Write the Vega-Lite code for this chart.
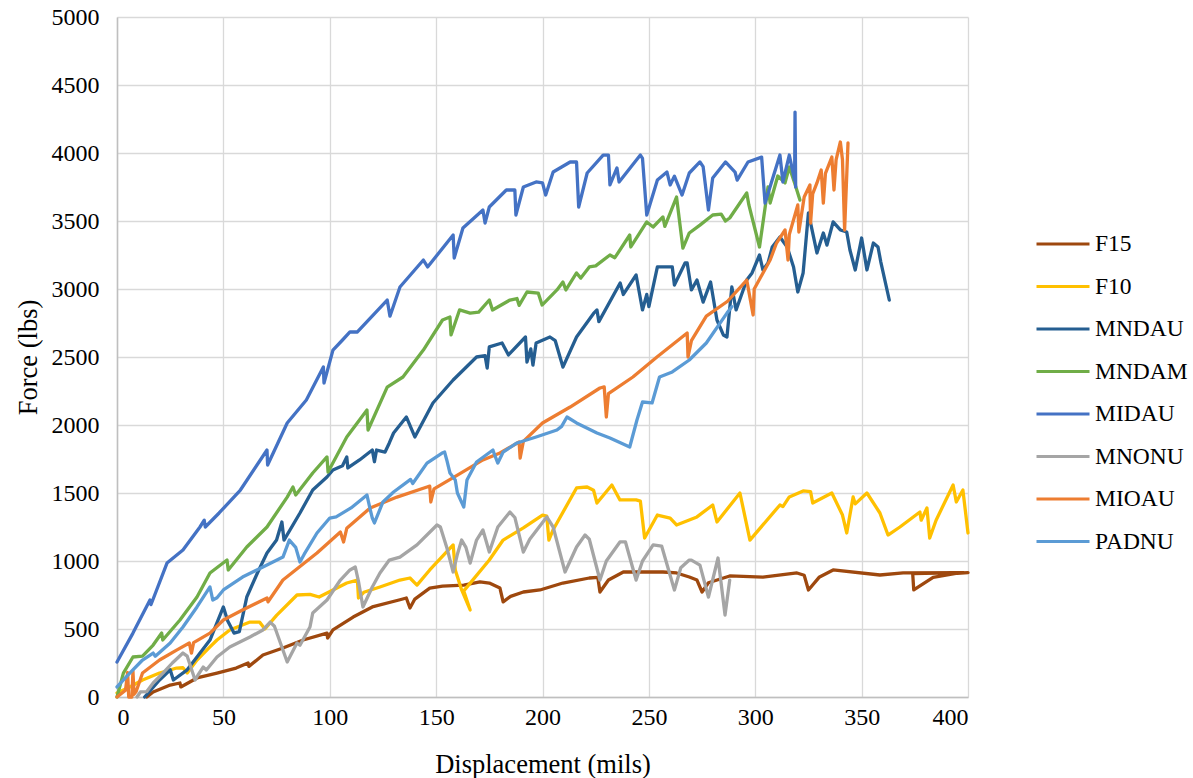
{
  "$schema": "https://vega.github.io/schema/vega-lite/v6.json",
  "width": 851,
  "height": 680,
  "autosize": "none",
  "padding": {"left": 117, "top": 17, "right": 225, "bottom": 81},
  "background": "white",
  "config": {
    "view": {"stroke": null},
    "font": "'Liberation Serif', 'Times New Roman', serif",
    "axis": {
      "gridColor": "#D9D9D9",
      "gridWidth": 1.3,
      "domainColor": "#BFBFBF",
      "domainWidth": 1.5,
      "ticks": false,
      "labelFont": "'Liberation Serif', 'Times New Roman', serif",
      "labelFontSize": 24,
      "labelColor": "#000000",
      "titleFont": "'Liberation Serif', 'Times New Roman', serif",
      "titleFontSize": 26.5,
      "titleFontWeight": "normal",
      "titleColor": "#000000"
    },
    "legend": {
      "labelFont": "'Liberation Serif', 'Times New Roman', serif",
      "labelFontSize": 23.5,
      "labelColor": "#000000"
    }
  },
  "datasets": {
    "curves": [
      {"s":"F15","x":14,"y":0},{"s":"F15","x":17,"y":37},{"s":"F15","x":25,"y":88},{"s":"F15","x":29.6,"y":103},{"s":"F15","x":30,"y":74},{"s":"F15","x":37.6,"y":140},{"s":"F15","x":47,"y":176},{"s":"F15","x":56,"y":213},{"s":"F15","x":61.6,"y":250},{"s":"F15","x":62,"y":225},{"s":"F15","x":68.6,"y":309},{"s":"F15","x":78,"y":360},{"s":"F15","x":87.5,"y":419},{"s":"F15","x":98.7,"y":470},{"s":"F15","x":99,"y":434},{"s":"F15","x":101.5,"y":493},{"s":"F15","x":111,"y":588},{"s":"F15","x":120,"y":662},{"s":"F15","x":133,"y":715},{"s":"F15","x":136,"y":728},{"s":"F15","x":137.7,"y":654},{"s":"F15","x":140,"y":720},{"s":"F15","x":147,"y":801},{"s":"F15","x":153,"y":816},{"s":"F15","x":163,"y":823},{"s":"F15","x":170.6,"y":846},{"s":"F15","x":175,"y":838},{"s":"F15","x":180,"y":801},{"s":"F15","x":181.5,"y":699},{"s":"F15","x":185,"y":740},{"s":"F15","x":191,"y":772},{"s":"F15","x":198.8,"y":787},{"s":"F15","x":209.6,"y":838},{"s":"F15","x":222,"y":875},{"s":"F15","x":226,"y":880},{"s":"F15","x":227,"y":772},{"s":"F15","x":231,"y":860},{"s":"F15","x":238,"y":919},{"s":"F15","x":244,"y":919},{"s":"F15","x":256.6,"y":919},{"s":"F15","x":263,"y":912},{"s":"F15","x":269,"y":882},{"s":"F15","x":272.6,"y":860},{"s":"F15","x":275,"y":772},{"s":"F15","x":278,"y":840},{"s":"F15","x":288,"y":890},{"s":"F15","x":303.6,"y":882},{"s":"F15","x":319.6,"y":912},{"s":"F15","x":323,"y":895},{"s":"F15","x":325,"y":787},{"s":"F15","x":330,"y":880},{"s":"F15","x":336.6,"y":934},{"s":"F15","x":358.6,"y":897},{"s":"F15","x":369.5,"y":912},{"s":"F15","x":398,"y":915},{"s":"F15","x":374,"y":908},{"s":"F15","x":374.5,"y":787},{"s":"F15","x":383.6,"y":880},{"s":"F15","x":395,"y":910},{"s":"F15","x":400,"y":915},
      {"s":"F10","x":0,"y":30},{"s":"F10","x":6,"y":74},{"s":"F10","x":12,"y":125},{"s":"F10","x":20,"y":176},{"s":"F10","x":28,"y":213},{"s":"F10","x":31,"y":215},{"s":"F10","x":33,"y":176},{"s":"F10","x":37.6,"y":272},{"s":"F10","x":43.7,"y":368},{"s":"F10","x":47,"y":419},{"s":"F10","x":53,"y":493},{"s":"F10","x":62.5,"y":551},{"s":"F10","x":67,"y":551},{"s":"F10","x":69.5,"y":500},{"s":"F10","x":75,"y":600},{"s":"F10","x":84.6,"y":750},{"s":"F10","x":90.7,"y":755},{"s":"F10","x":95,"y":735},{"s":"F10","x":101.5,"y":787},{"s":"F10","x":108,"y":838},{"s":"F10","x":113,"y":860},{"s":"F10","x":113.5,"y":728},{"s":"F10","x":116,"y":770},{"s":"F10","x":123.6,"y":809},{"s":"F10","x":133,"y":860},{"s":"F10","x":137.7,"y":875},{"s":"F10","x":141,"y":823},{"s":"F10","x":147,"y":934},{"s":"F10","x":158,"y":1118},{"s":"F10","x":159,"y":934},{"s":"F10","x":162,"y":787},{"s":"F10","x":166,"y":640},{"s":"F10","x":163,"y":780},{"s":"F10","x":175,"y":1007},{"s":"F10","x":181.5,"y":1154},{"s":"F10","x":191,"y":1243},{"s":"F10","x":200,"y":1338},{"s":"F10","x":202,"y":1330},{"s":"F10","x":203,"y":1154},{"s":"F10","x":205,"y":1230},{"s":"F10","x":216,"y":1537},{"s":"F10","x":221,"y":1544},{"s":"F10","x":224,"y":1520},{"s":"F10","x":225.6,"y":1426},{"s":"F10","x":232.6,"y":1559},{"s":"F10","x":236.4,"y":1449},{"s":"F10","x":244,"y":1449},{"s":"F10","x":246,"y":1440},{"s":"F10","x":248,"y":1169},{"s":"F10","x":254,"y":1338},{"s":"F10","x":260,"y":1316},{"s":"F10","x":263,"y":1265},{"s":"F10","x":269,"y":1301},{"s":"F10","x":272.6,"y":1324},{"s":"F10","x":280,"y":1412},{"s":"F10","x":282,"y":1287},{"s":"F10","x":292.8,"y":1500},{"s":"F10","x":297.5,"y":1154},{"s":"F10","x":311.6,"y":1412},{"s":"F10","x":313,"y":1400},{"s":"F10","x":316,"y":1471},{"s":"F10","x":322.5,"y":1515},{"s":"F10","x":326,"y":1510},{"s":"F10","x":327,"y":1426},{"s":"F10","x":336,"y":1500},{"s":"F10","x":341,"y":1338},{"s":"F10","x":343,"y":1206},{"s":"F10","x":346,"y":1471},{"s":"F10","x":347,"y":1420},{"s":"F10","x":352.5,"y":1500},{"s":"F10","x":358.6,"y":1353},{"s":"F10","x":362.4,"y":1191},{"s":"F10","x":368,"y":1250},{"s":"F10","x":377.4,"y":1360},{"s":"F10","x":378,"y":1300},{"s":"F10","x":380.7,"y":1390},{"s":"F10","x":382,"y":1169},{"s":"F10","x":385,"y":1300},{"s":"F10","x":393,"y":1559},{"s":"F10","x":394.5,"y":1434},{"s":"F10","x":397.6,"y":1522},{"s":"F10","x":400,"y":1206},
      {"s":"MNDAU","x":13,"y":0},{"s":"MNDAU","x":20,"y":125},{"s":"MNDAU","x":25,"y":200},{"s":"MNDAU","x":26.5,"y":125},{"s":"MNDAU","x":33,"y":200},{"s":"MNDAU","x":37.6,"y":294},{"s":"MNDAU","x":43.7,"y":419},{"s":"MNDAU","x":50,"y":662},{"s":"MNDAU","x":52,"y":560},{"s":"MNDAU","x":55,"y":470},{"s":"MNDAU","x":57.5,"y":480},{"s":"MNDAU","x":61,"y":735},{"s":"MNDAU","x":66,"y":912},{"s":"MNDAU","x":70.5,"y":1059},{"s":"MNDAU","x":75,"y":1154},{"s":"MNDAU","x":77.5,"y":1287},{"s":"MNDAU","x":78.5,"y":1154},{"s":"MNDAU","x":86,"y":1353},{"s":"MNDAU","x":92,"y":1522},{"s":"MNDAU","x":98.7,"y":1618},{"s":"MNDAU","x":101.5,"y":1669},{"s":"MNDAU","x":106,"y":1700},{"s":"MNDAU","x":108,"y":1765},{"s":"MNDAU","x":108.5,"y":1684},{"s":"MNDAU","x":114,"y":1743},{"s":"MNDAU","x":120,"y":1816},{"s":"MNDAU","x":121,"y":1730},{"s":"MNDAU","x":122,"y":1816},{"s":"MNDAU","x":126,"y":1801},{"s":"MNDAU","x":128,"y":1868},{"s":"MNDAU","x":130,"y":1941},{"s":"MNDAU","x":136,"y":2059},{"s":"MNDAU","x":140,"y":1912},{"s":"MNDAU","x":148.5,"y":2162},{"s":"MNDAU","x":158,"y":2331},{"s":"MNDAU","x":169,"y":2500},{"s":"MNDAU","x":173,"y":2510},{"s":"MNDAU","x":174,"y":2419},{"s":"MNDAU","x":175,"y":2574},{"s":"MNDAU","x":181,"y":2603},{"s":"MNDAU","x":184,"y":2515},{"s":"MNDAU","x":192,"y":2647},{"s":"MNDAU","x":192.7,"y":2463},{"s":"MNDAU","x":194.5,"y":2560},{"s":"MNDAU","x":195.5,"y":2440},{"s":"MNDAU","x":197,"y":2603},{"s":"MNDAU","x":203.5,"y":2647},{"s":"MNDAU","x":206,"y":2620},{"s":"MNDAU","x":209.6,"y":2426},{"s":"MNDAU","x":216,"y":2647},{"s":"MNDAU","x":224,"y":2820},{"s":"MNDAU","x":225.6,"y":2846},{"s":"MNDAU","x":226.5,"y":2760},{"s":"MNDAU","x":236.5,"y":3044},{"s":"MNDAU","x":238,"y":2960},{"s":"MNDAU","x":244,"y":3103},{"s":"MNDAU","x":247,"y":2846},{"s":"MNDAU","x":249,"y":2960},{"s":"MNDAU","x":250,"y":2870},{"s":"MNDAU","x":254,"y":3162},{"s":"MNDAU","x":261,"y":3162},{"s":"MNDAU","x":262,"y":3029},{"s":"MNDAU","x":267,"y":3191},{"s":"MNDAU","x":268,"y":3191},{"s":"MNDAU","x":270,"y":2993},{"s":"MNDAU","x":272.6,"y":3066},{"s":"MNDAU","x":275.5,"y":2904},{"s":"MNDAU","x":279,"y":3051},{"s":"MNDAU","x":282,"y":2772},{"s":"MNDAU","x":285,"y":2662},{"s":"MNDAU","x":286.7,"y":2647},{"s":"MNDAU","x":289,"y":3015},{"s":"MNDAU","x":291,"y":2846},{"s":"MNDAU","x":296,"y":3066},{"s":"MNDAU","x":298.5,"y":3118},{"s":"MNDAU","x":302,"y":3250},{"s":"MNDAU","x":303.6,"y":3140},{"s":"MNDAU","x":306,"y":3191},{"s":"MNDAU","x":308,"y":3309},{"s":"MNDAU","x":311.6,"y":3382},{"s":"MNDAU","x":315,"y":3309},{"s":"MNDAU","x":318,"y":3162},{"s":"MNDAU","x":320,"y":2978},{"s":"MNDAU","x":322.5,"y":3118},{"s":"MNDAU","x":325,"y":3560},{"s":"MNDAU","x":329,"y":3265},{"s":"MNDAU","x":332,"y":3412},{"s":"MNDAU","x":333.7,"y":3323},{"s":"MNDAU","x":336.6,"y":3493},{"s":"MNDAU","x":340,"y":3434},{"s":"MNDAU","x":343,"y":3419},{"s":"MNDAU","x":344.5,"y":3287},{"s":"MNDAU","x":347,"y":3140},{"s":"MNDAU","x":350,"y":3375},{"s":"MNDAU","x":352.5,"y":3140},{"s":"MNDAU","x":355.5,"y":3338},{"s":"MNDAU","x":357.7,"y":3309},{"s":"MNDAU","x":359,"y":3200},{"s":"MNDAU","x":363,"y":2919},
      {"s":"MNDAM","x":0,"y":0},{"s":"MNDAM","x":3,"y":176},{"s":"MNDAM","x":7.5,"y":294},{"s":"MNDAM","x":12,"y":300},{"s":"MNDAM","x":17,"y":382},{"s":"MNDAM","x":21,"y":470},{"s":"MNDAM","x":21.5,"y":419},{"s":"MNDAM","x":29.6,"y":566},{"s":"MNDAM","x":37.6,"y":735},{"s":"MNDAM","x":43.7,"y":912},{"s":"MNDAM","x":51.7,"y":1007},{"s":"MNDAM","x":52.3,"y":934},{"s":"MNDAM","x":61,"y":1103},{"s":"MNDAM","x":70.5,"y":1250},{"s":"MNDAM","x":80,"y":1470},{"s":"MNDAM","x":82.7,"y":1544},{"s":"MNDAM","x":84,"y":1485},{"s":"MNDAM","x":92,"y":1647},{"s":"MNDAM","x":98.7,"y":1765},{"s":"MNDAM","x":99.2,"y":1654},{"s":"MNDAM","x":108,"y":1912},{"s":"MNDAM","x":117.5,"y":2110},{"s":"MNDAM","x":118,"y":1963},{"s":"MNDAM","x":127,"y":2279},{"s":"MNDAM","x":134.4,"y":2353},{"s":"MNDAM","x":144,"y":2551},{"s":"MNDAM","x":153,"y":2772},{"s":"MNDAM","x":156.5,"y":2794},{"s":"MNDAM","x":157,"y":2662},{"s":"MNDAM","x":161,"y":2846},{"s":"MNDAM","x":166,"y":2823},{"s":"MNDAM","x":170,"y":2830},{"s":"MNDAM","x":175,"y":2919},{"s":"MNDAM","x":176.5,"y":2846},{"s":"MNDAM","x":184.7,"y":2919},{"s":"MNDAM","x":188,"y":2930},{"s":"MNDAM","x":189,"y":2880},{"s":"MNDAM","x":192.7,"y":2978},{"s":"MNDAM","x":198,"y":2970},{"s":"MNDAM","x":199.8,"y":2882},{"s":"MNDAM","x":206.8,"y":2993},{"s":"MNDAM","x":209.6,"y":3051},{"s":"MNDAM","x":211,"y":2993},{"s":"MNDAM","x":216,"y":3118},{"s":"MNDAM","x":218,"y":3080},{"s":"MNDAM","x":222,"y":3162},{"s":"MNDAM","x":225,"y":3170},{"s":"MNDAM","x":231.7,"y":3250},{"s":"MNDAM","x":234,"y":3230},{"s":"MNDAM","x":241,"y":3397},{"s":"MNDAM","x":241.5,"y":3309},{"s":"MNDAM","x":249,"y":3493},{"s":"MNDAM","x":252,"y":3456},{"s":"MNDAM","x":256.6,"y":3530},{"s":"MNDAM","x":257.5,"y":3460},{"s":"MNDAM","x":263,"y":3676},{"s":"MNDAM","x":266,"y":3300},{"s":"MNDAM","x":269,"y":3412},{"s":"MNDAM","x":274,"y":3470},{"s":"MNDAM","x":280,"y":3544},{"s":"MNDAM","x":284,"y":3550},{"s":"MNDAM","x":286,"y":3500},{"s":"MNDAM","x":288,"y":3522},{"s":"MNDAM","x":296,"y":3706},{"s":"MNDAM","x":297,"y":3618},{"s":"MNDAM","x":302,"y":3309},{"s":"MNDAM","x":306,"y":3750},{"s":"MNDAM","x":307,"y":3632},{"s":"MNDAM","x":310.6,"y":3831},{"s":"MNDAM","x":314,"y":3780},{"s":"MNDAM","x":316,"y":3897},{"s":"MNDAM","x":318.5,"y":3780},{"s":"MNDAM","x":321,"y":3654},
      {"s":"MIDAU","x":0,"y":257},{"s":"MIDAU","x":7.5,"y":470},{"s":"MIDAU","x":15.5,"y":713},{"s":"MIDAU","x":16,"y":680},{"s":"MIDAU","x":23.5,"y":985},{"s":"MIDAU","x":31,"y":1081},{"s":"MIDAU","x":39,"y":1250},{"s":"MIDAU","x":41,"y":1300},{"s":"MIDAU","x":41.5,"y":1250},{"s":"MIDAU","x":48,"y":1353},{"s":"MIDAU","x":58,"y":1522},{"s":"MIDAU","x":70.5,"y":1816},{"s":"MIDAU","x":70.8,"y":1706},{"s":"MIDAU","x":80,"y":2015},{"s":"MIDAU","x":89,"y":2184},{"s":"MIDAU","x":97,"y":2426},{"s":"MIDAU","x":97.3,"y":2309},{"s":"MIDAU","x":101.5,"y":2551},{"s":"MIDAU","x":106,"y":2625},{"s":"MIDAU","x":109.5,"y":2684},{"s":"MIDAU","x":113,"y":2684},{"s":"MIDAU","x":127,"y":2919},{"s":"MIDAU","x":128.3,"y":2800},{"s":"MIDAU","x":133,"y":3015},{"s":"MIDAU","x":144,"y":3213},{"s":"MIDAU","x":146,"y":3162},{"s":"MIDAU","x":158,"y":3397},{"s":"MIDAU","x":158.5,"y":3228},{"s":"MIDAU","x":162.6,"y":3449},{"s":"MIDAU","x":172,"y":3581},{"s":"MIDAU","x":173,"y":3485},{"s":"MIDAU","x":175,"y":3603},{"s":"MIDAU","x":183,"y":3728},{"s":"MIDAU","x":187,"y":3728},{"s":"MIDAU","x":187.5,"y":3544},{"s":"MIDAU","x":191,"y":3750},{"s":"MIDAU","x":197,"y":3787},{"s":"MIDAU","x":200,"y":3780},{"s":"MIDAU","x":201.5,"y":3691},{"s":"MIDAU","x":205,"y":3860},{"s":"MIDAU","x":213,"y":3934},{"s":"MIDAU","x":216,"y":3934},{"s":"MIDAU","x":217,"y":3603},{"s":"MIDAU","x":221,"y":3853},{"s":"MIDAU","x":228.5,"y":3985},{"s":"MIDAU","x":231,"y":3985},{"s":"MIDAU","x":231.7,"y":3765},{"s":"MIDAU","x":235,"y":3890},{"s":"MIDAU","x":236,"y":3787},{"s":"MIDAU","x":246,"y":3985},{"s":"MIDAU","x":247,"y":3960},{"s":"MIDAU","x":249,"y":3544},{"s":"MIDAU","x":254,"y":3801},{"s":"MIDAU","x":258.5,"y":3860},{"s":"MIDAU","x":260,"y":3765},{"s":"MIDAU","x":262,"y":3830},{"s":"MIDAU","x":265.6,"y":3691},{"s":"MIDAU","x":269,"y":3853},{"s":"MIDAU","x":274,"y":3934},{"s":"MIDAU","x":275.5,"y":3900},{"s":"MIDAU","x":278,"y":3581},{"s":"MIDAU","x":280,"y":3816},{"s":"MIDAU","x":286,"y":3934},{"s":"MIDAU","x":290.5,"y":3860},{"s":"MIDAU","x":291.5,"y":3801},{"s":"MIDAU","x":296.6,"y":3934},{"s":"MIDAU","x":303,"y":3970},{"s":"MIDAU","x":304.6,"y":3632},{"s":"MIDAU","x":311.6,"y":3985},{"s":"MIDAU","x":313,"y":3787},{"s":"MIDAU","x":316,"y":3985},{"s":"MIDAU","x":318.5,"y":3800},{"s":"MIDAU","x":318.7,"y":4301},{"s":"MIDAU","x":319,"y":3750},
      {"s":"MNONU","x":9.4,"y":0},{"s":"MNONU","x":11,"y":37},{"s":"MNONU","x":14,"y":40},{"s":"MNONU","x":17,"y":103},{"s":"MNONU","x":21.6,"y":176},{"s":"MNONU","x":26,"y":250},{"s":"MNONU","x":31,"y":323},{"s":"MNONU","x":33,"y":300},{"s":"MNONU","x":36.7,"y":125},{"s":"MNONU","x":38,"y":160},{"s":"MNONU","x":40.5,"y":220},{"s":"MNONU","x":42,"y":199},{"s":"MNONU","x":47,"y":294},{"s":"MNONU","x":53,"y":368},{"s":"MNONU","x":62.5,"y":441},{"s":"MNONU","x":68.6,"y":493},{"s":"MNONU","x":72,"y":551},{"s":"MNONU","x":74,"y":520},{"s":"MNONU","x":80,"y":257},{"s":"MNONU","x":84.6,"y":397},{"s":"MNONU","x":86,"y":380},{"s":"MNONU","x":90.7,"y":515},{"s":"MNONU","x":92,"y":618},{"s":"MNONU","x":98.7,"y":713},{"s":"MNONU","x":105,"y":860},{"s":"MNONU","x":109.5,"y":934},{"s":"MNONU","x":112,"y":956},{"s":"MNONU","x":113.5,"y":850},{"s":"MNONU","x":115.6,"y":662},{"s":"MNONU","x":120,"y":809},{"s":"MNONU","x":123.6,"y":912},{"s":"MNONU","x":128,"y":1007},{"s":"MNONU","x":133,"y":1029},{"s":"MNONU","x":141,"y":1118},{"s":"MNONU","x":150.4,"y":1265},{"s":"MNONU","x":152,"y":1250},{"s":"MNONU","x":155,"y":1100},{"s":"MNONU","x":158,"y":919},{"s":"MNONU","x":160,"y":1050},{"s":"MNONU","x":162,"y":1154},{"s":"MNONU","x":164,"y":1100},{"s":"MNONU","x":166,"y":985},{"s":"MNONU","x":169,"y":1154},{"s":"MNONU","x":172,"y":1228},{"s":"MNONU","x":175,"y":1066},{"s":"MNONU","x":179,"y":1250},{"s":"MNONU","x":184.7,"y":1360},{"s":"MNONU","x":187,"y":1320},{"s":"MNONU","x":191,"y":1066},{"s":"MNONU","x":194,"y":1160},{"s":"MNONU","x":202,"y":1324},{"s":"MNONU","x":205,"y":1250},{"s":"MNONU","x":210.6,"y":919},{"s":"MNONU","x":216,"y":1103},{"s":"MNONU","x":220,"y":1191},{"s":"MNONU","x":222,"y":1160},{"s":"MNONU","x":227,"y":860},{"s":"MNONU","x":230,"y":1000},{"s":"MNONU","x":236.4,"y":1140},{"s":"MNONU","x":239,"y":1140},{"s":"MNONU","x":244,"y":860},{"s":"MNONU","x":247,"y":1000},{"s":"MNONU","x":252,"y":1118},{"s":"MNONU","x":256,"y":1110},{"s":"MNONU","x":262,"y":787},{"s":"MNONU","x":265,"y":950},{"s":"MNONU","x":269,"y":1007},{"s":"MNONU","x":270,"y":1007},{"s":"MNONU","x":274,"y":970},{"s":"MNONU","x":278,"y":735},{"s":"MNONU","x":282.5,"y":1022},{"s":"MNONU","x":285.8,"y":603},{"s":"MNONU","x":288,"y":860},
      {"s":"MIOAU","x":0,"y":0},{"s":"MIOAU","x":4,"y":50},{"s":"MIOAU","x":5,"y":180},{"s":"MIOAU","x":5.5,"y":0},{"s":"MIOAU","x":7,"y":0},{"s":"MIOAU","x":7.5,"y":190},{"s":"MIOAU","x":8,"y":20},{"s":"MIOAU","x":9,"y":40},{"s":"MIOAU","x":12,"y":176},{"s":"MIOAU","x":20,"y":272},{"s":"MIOAU","x":28,"y":345},{"s":"MIOAU","x":34,"y":397},{"s":"MIOAU","x":35,"y":323},{"s":"MIOAU","x":36,"y":400},{"s":"MIOAU","x":43.7,"y":470},{"s":"MIOAU","x":50,"y":566},{"s":"MIOAU","x":59,"y":640},{"s":"MIOAU","x":70.5,"y":728},{"s":"MIOAU","x":71,"y":700},{"s":"MIOAU","x":78,"y":860},{"s":"MIOAU","x":94,"y":1059},{"s":"MIOAU","x":105,"y":1213},{"s":"MIOAU","x":106.5,"y":1140},{"s":"MIOAU","x":108,"y":1240},{"s":"MIOAU","x":119,"y":1390},{"s":"MIOAU","x":131.6,"y":1470},{"s":"MIOAU","x":145.7,"y":1544},{"s":"MIOAU","x":147,"y":1550},{"s":"MIOAU","x":147.5,"y":1434},{"s":"MIOAU","x":149,"y":1530},{"s":"MIOAU","x":160,"y":1632},{"s":"MIOAU","x":172,"y":1743},{"s":"MIOAU","x":180,"y":1794},{"s":"MIOAU","x":189,"y":1875},{"s":"MIOAU","x":189.5,"y":1757},{"s":"MIOAU","x":191,"y":1880},{"s":"MIOAU","x":200,"y":2015},{"s":"MIOAU","x":213,"y":2132},{"s":"MIOAU","x":227,"y":2272},{"s":"MIOAU","x":229,"y":2280},{"s":"MIOAU","x":230,"y":2059},{"s":"MIOAU","x":231,"y":2230},{"s":"MIOAU","x":242.5,"y":2353},{"s":"MIOAU","x":253.8,"y":2500},{"s":"MIOAU","x":268,"y":2676},{"s":"MIOAU","x":268.4,"y":2500},{"s":"MIOAU","x":270,"y":2620},{"s":"MIOAU","x":277,"y":2800},{"s":"MIOAU","x":287,"y":2910},{"s":"MIOAU","x":296,"y":3066},{"s":"MIOAU","x":299,"y":2809},{"s":"MIOAU","x":299.5,"y":3000},{"s":"MIOAU","x":307,"y":3213},{"s":"MIOAU","x":310,"y":3338},{"s":"MIOAU","x":314,"y":3434},{"s":"MIOAU","x":315.4,"y":3213},{"s":"MIOAU","x":316,"y":3400},{"s":"MIOAU","x":320,"y":3618},{"s":"MIOAU","x":320.5,"y":3419},{"s":"MIOAU","x":323,"y":3676},{"s":"MIOAU","x":325.7,"y":3765},{"s":"MIOAU","x":326,"y":3485},{"s":"MIOAU","x":327,"y":3700},{"s":"MIOAU","x":329,"y":3780},{"s":"MIOAU","x":331,"y":3875},{"s":"MIOAU","x":332,"y":3632},{"s":"MIOAU","x":333,"y":3850},{"s":"MIOAU","x":336,"y":3970},{"s":"MIOAU","x":337,"y":3728},{"s":"MIOAU","x":338,"y":3950},{"s":"MIOAU","x":340,"y":4081},{"s":"MIOAU","x":341,"y":3950},{"s":"MIOAU","x":342,"y":3434},{"s":"MIOAU","x":343.6,"y":4074},
      {"s":"PADNU","x":0,"y":74},{"s":"PADNU","x":6,"y":176},{"s":"PADNU","x":12,"y":272},{"s":"PADNU","x":17,"y":323},{"s":"PADNU","x":18,"y":300},{"s":"PADNU","x":25,"y":397},{"s":"PADNU","x":31,"y":515},{"s":"PADNU","x":37.6,"y":662},{"s":"PADNU","x":43.7,"y":809},{"s":"PADNU","x":45,"y":713},{"s":"PADNU","x":47,"y":730},{"s":"PADNU","x":50,"y":787},{"s":"PADNU","x":59,"y":882},{"s":"PADNU","x":68.6,"y":956},{"s":"PADNU","x":78,"y":1029},{"s":"PADNU","x":81,"y":1154},{"s":"PADNU","x":84,"y":1100},{"s":"PADNU","x":86,"y":993},{"s":"PADNU","x":88,"y":1050},{"s":"PADNU","x":94,"y":1206},{"s":"PADNU","x":100,"y":1316},{"s":"PADNU","x":103,"y":1324},{"s":"PADNU","x":110,"y":1390},{"s":"PADNU","x":117.5,"y":1485},{"s":"PADNU","x":119,"y":1380},{"s":"PADNU","x":120,"y":1316},{"s":"PADNU","x":121,"y":1280},{"s":"PADNU","x":125,"y":1434},{"s":"PADNU","x":130,"y":1507},{"s":"PADNU","x":138,"y":1600},{"s":"PADNU","x":139,"y":1570},{"s":"PADNU","x":145.7,"y":1720},{"s":"PADNU","x":152.8,"y":1794},{"s":"PADNU","x":154,"y":1801},{"s":"PADNU","x":155,"y":1743},{"s":"PADNU","x":156.5,"y":1647},{"s":"PADNU","x":159,"y":1596},{"s":"PADNU","x":160,"y":1500},{"s":"PADNU","x":163,"y":1397},{"s":"PADNU","x":164.5,"y":1596},{"s":"PADNU","x":169,"y":1728},{"s":"PADNU","x":176.7,"y":1816},{"s":"PADNU","x":177.5,"y":1780},{"s":"PADNU","x":179,"y":1720},{"s":"PADNU","x":181.5,"y":1801},{"s":"PADNU","x":188,"y":1868},{"s":"PADNU","x":197,"y":1912},{"s":"PADNU","x":206.8,"y":1963},{"s":"PADNU","x":209,"y":1990},{"s":"PADNU","x":211.5,"y":2059},{"s":"PADNU","x":216,"y":2015},{"s":"PADNU","x":225.6,"y":1941},{"s":"PADNU","x":231.7,"y":1904},{"s":"PADNU","x":241,"y":1838},{"s":"PADNU","x":244.4,"y":2037},{"s":"PADNU","x":247,"y":2169},{"s":"PADNU","x":251.5,"y":2162},{"s":"PADNU","x":255,"y":2353},{"s":"PADNU","x":261,"y":2390},{"s":"PADNU","x":269,"y":2478},{"s":"PADNU","x":277,"y":2603},{"s":"PADNU","x":286.7,"y":2823},{"s":"PADNU","x":289,"y":2870}
    ]
  },
  "data": {"name": "curves"},
  "mark": {"type": "line", "strokeWidth": 3.3, "strokeJoin": "round", "strokeCap": "round"},
  "encoding": {
    "x": {
      "field": "x", "type": "quantitative",
      "scale": {"domain": [0, 400], "nice": false, "zero": false},
      "axis": {"values": [0, 50, 100, 150, 200, 250, 300, 350, 400], "format": "d", "title": "Displacement (mils)", "labelPadding": 8, "titlePadding": 22}
    },
    "y": {
      "field": "y", "type": "quantitative",
      "scale": {"domain": [0, 5000], "nice": false},
      "axis": {"values": [0, 500, 1000, 1500, 2000, 2500, 3000, 3500, 4000, 4500, 5000], "format": "d", "title": "Force (lbs)", "labelPadding": 18, "titlePadding": 9}
    },
    "color": {
      "field": "s", "type": "nominal",
      "scale": {
        "domain": ["F15", "F10", "MNDAU", "MNDAM", "MIDAU", "MNONU", "MIOAU", "PADNU"],
        "range": ["#9E480E", "#FFC000", "#255E91", "#70AD47", "#4472C4", "#A5A5A5", "#ED7D31", "#5B9BD5"]
      },
      "legend": {
        "title": null,
        "orient": "none",
        "legendX": 918,
        "legendY": 199,
        "direction": "vertical",
        "symbolType": "stroke",
        "symbolSize": 2809,
        "symbolStrokeWidth": 3,
        "labelOffset": 4,
        "rowPadding": 2.5
      }
    },
    "order": {"value": null}
  }
}
